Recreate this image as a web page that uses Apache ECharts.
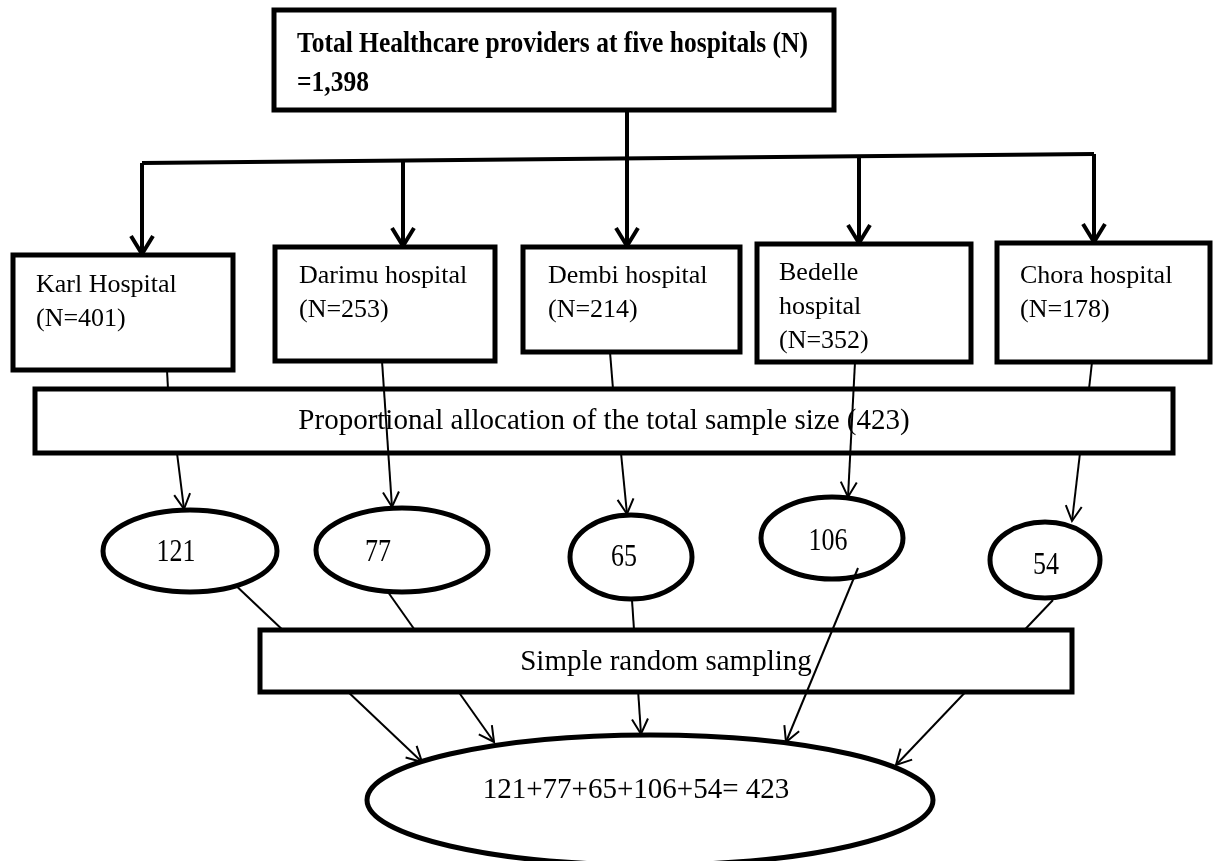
<!DOCTYPE html>
<html><head><meta charset="utf-8">
<script src="https://cdn.jsdelivr.net/npm/echarts@6/dist/echarts.min.js"></script>
<style>html,body{margin:0;padding:0;background:#fff}#c{width:1218px;height:861px}</style>
</head><body><div id="c"></div>
<script>
// ---------- data ----------
const totalProviders = 1398;
const titleText = 'Total Healthcare providers at five hospitals (N)';
const hospitalNames = ['Karl Hospital', 'Darimu hospital', 'Dembi hospital', 'Bedelle\nhospital', 'Chora hospital'];
const hospitalN = [401, 253, 214, 352, 178];
const sampleSizes = [121, 77, 65, 106, 54];
const totalSample = 423;
const allocationText = 'Proportional allocation of the total sample size';
const samplingText = 'Simple random sampling';

// ---------- layout (diagram units = px of a 1218x861 canvas) ----------
const W = 1218, H = 861;
const titleBox = [274, 10, 834, 110];
const titlePos = [297, 44, 83];
const hospBoxes = [[13,255,233,370],[275,247,495,361],[523,247,740,352],[757,244,971,362],[997,243,1210,362]];
const hospTextPos = [[36,285],[299,276],[548,276],[779,273],[1020,276]];
const hospLineGap = 34;
const allocBox = [35,389,1173,453];
const allocTextPos = [604,421];
const ovals = [[190,551,87,41],[402,550,86,42],[631,557,61,42],[832,538,71,41],[1045,560,55,38]];
const ovalTextPos = [[176,553],[378,553],[624,558],[828,542],[1046,566]];
const srsBox = [260,630,1072,692];
const srsTextPos = [666,662];
const finalOval = [650,800,283,65];
const finalTextPos = [636,790];
const trunk = [627,110,627,246];
const bar = [142,163,1094,154];
const drops = [[142,163,142,254],[403,161,403,246],[859,156,859,243],[1094,154,1094,242]];
const hospToAlloc = [[167,370,168,389],[382,361,392,507],[610,352,613,389],[855,362,848,497],[1092,362,1089,389]];
const hospArrow = [false,true,false,true,false];
const allocToOval = [[177,453,184,509],null,[621,453,627,514],null,[1080,453,1072,521]];
const ovalToFinal = [[230,580,422,762],[383,585,494,742],[632,600,641,734],[858,568,786,742],[1053,600,896,765]];

const serif = '"Liberation Serif","Times New Roman",serif';

// ---------- build shape list ----------
const shapes = [];
function rect(b, lw) { shapes.push({k:'rect', b, lw}); }
function ell(o, lw) { shapes.push({k:'ell', o, lw}); }
function seg(l, lw, arrow, head) { shapes.push({k:'line', l, lw, arrow, head}); }
function txt(t, p, size, bold, align, sy) { shapes.push({k:'text', t, p, size, bold, align, sy: sy || 1}); }

// top
rect(titleBox, 5);
txt(titleText, [titlePos[0], titlePos[1]], 25.5, true, 'left', 1.15);
txt('=' + totalProviders.toLocaleString('en-US'), [titlePos[0], titlePos[2]], 25.5, true, 'left', 1.15);
seg(trunk, 4, true, [18, 11]);
seg(bar, 4, false);
drops.forEach(d => seg(d, 4, true, [18, 11]));
// hospitals
hospBoxes.forEach((b, i) => {
  rect(b, 5);
  const lines = hospitalNames[i].split('\n').concat(['(N=' + hospitalN[i] + ')']);
  lines.forEach((s, j) => txt(s, [hospTextPos[i][0], hospTextPos[i][1] + j * hospLineGap], 26, false, 'left'));
});
// allocation
rect(allocBox, 5);
txt(allocationText + ' (' + totalSample + ')', allocTextPos, 29, false, 'center');
hospToAlloc.forEach((l, i) => seg(l, 2, hospArrow[i], [15, 8]));
allocToOval.forEach(l => { if (l) seg(l, 2, true, [15, 8]); });
// lines to final (hidden behind SRS box)
ovalToFinal.forEach((l, i) => { if (i !== 3) seg(l, 2, true, [15, 8]); });
// ovals
ovals.forEach((o, i) => { ell(o, 5); txt(String(sampleSizes[i]), ovalTextPos[i], 26, false, 'center', 1.22); });
// SRS
rect(srsBox, 5);
txt(samplingText, srsTextPos, 29, false, 'center');
seg(ovalToFinal[3], 2, true, [15, 8]);
// final
ell(finalOval, 5);
txt(sampleSizes.join('+') + '= ' + totalSample, finalTextPos, 29, false, 'center');

// ---------- render ----------
function renderItem(params, api) {
  const s = shapes[params.dataIndex];
  if (s.k === 'rect') {
    const p0 = api.coord([s.b[0], s.b[1]]), p1 = api.coord([s.b[2], s.b[3]]);
    return {type:'rect', shape:{x:p0[0], y:p0[1], width:p1[0]-p0[0], height:p1[1]-p0[1]},
      style:{fill:'#fff', stroke:'#000', lineWidth:s.lw}};
  }
  if (s.k === 'ell') {
    const c = api.coord([s.o[0], s.o[1]]), e = api.coord([s.o[0] + s.o[2], s.o[1] + s.o[3]]);
    return {type:'ellipse', shape:{cx:c[0], cy:c[1], rx:e[0]-c[0], ry:e[1]-c[1]},
      style:{fill:'#fff', stroke:'#000', lineWidth:s.lw}};
  }
  if (s.k === 'text') {
    const p = api.coord(s.p);
    return {type:'text', x:p[0], y:p[1], scaleY:s.sy, style:{text:s.t, x:0, y:0, fill:'#000',
      font:(s.bold ? 'bold ' : '') + s.size + 'px ' + serif,
      textAlign:s.align, textVerticalAlign:'middle', align:s.align, verticalAlign:'middle'}};
  }
  const a = api.coord([s.l[0], s.l[1]]), b = api.coord([s.l[2], s.l[3]]);
  const children = [{type:'line', shape:{x1:a[0], y1:a[1], x2:b[0], y2:b[1]}, style:{stroke:'#000', lineWidth:s.lw}}];
  if (s.arrow) {
    const dx = b[0]-a[0], dy = b[1]-a[1], L = Math.hypot(dx, dy);
    const ux = dx/L, uy = dy/L, nx = -uy, ny = ux;
    const len = s.head[0], hw = s.head[1];
    children.push({type:'polyline', shape:{points:[
      [b[0]-ux*len+nx*hw, b[1]-uy*len+ny*hw], [b[0], b[1]], [b[0]-ux*len-nx*hw, b[1]-uy*len-ny*hw]]},
      style:{stroke:'#000', lineWidth:s.lw, fill:null, lineJoin:'miter'}});
  }
  return {type:'group', children};
}

const chart = echarts.init(document.getElementById('c'), null, {renderer:'canvas'});
chart.setOption({
  animation:false,
  backgroundColor:'#fff',
  grid:{left:0, right:0, top:0, bottom:0},
  xAxis:{type:'value', min:0, max:W, show:false},
  yAxis:{type:'value', min:0, max:H, inverse:true, show:false},
  series:[{type:'custom', coordinateSystem:'cartesian2d', silent:true, clip:false,
    renderItem, data: shapes.map((s, i) => [i, 0])}]
});
</script></body></html>
